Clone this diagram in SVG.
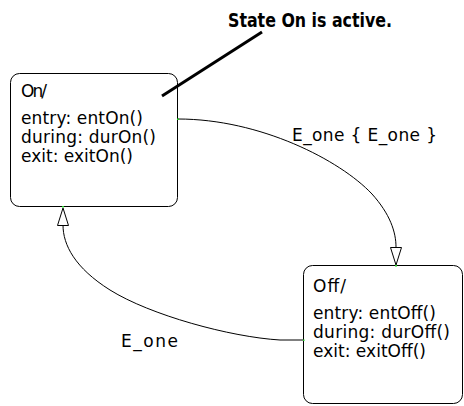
<svg xmlns="http://www.w3.org/2000/svg" width="464" height="406" viewBox="0 0 464 406">
<style>
.box{fill:#fff;stroke:#000;stroke-width:1}
.t{font-family:"DejaVu Sans",sans-serif;font-size:17px;fill:#000}
.edge{fill:none;stroke:#000;stroke-width:1}
.head{fill:#fff;stroke:#000;stroke-width:1}
.dot{fill:#22cc22}
.note{font-family:"DejaVu Sans Condensed","DejaVu Sans",sans-serif;font-weight:bold;font-size:20px;fill:#000}
</style>
<rect width="464" height="406" fill="#fff"/>
<g id="connectors">
<path class="edge" d="M178,119 C260,119 340,160 372,194 C390,214 396,232 396,247"/>
<polygon class="head" points="396,265 390.5,247.5 401.5,247.5"/>
<path class="edge" d="M303,340 L280,340 C230,337 150,315 110,290 C75,268 63,245 63,225"/>
<polygon class="head" points="63,208 57.5,225.5 68.5,225.5"/>
<text class="t" x="292" y="141" textLength="145" lengthAdjust="spacing">E_one { E_one }</text>
<text class="t" x="121" y="347" textLength="57" lengthAdjust="spacing">E_one</text>
</g>
<g id="on">
<rect class="box" x="10.5" y="73.5" width="167" height="133" rx="9"/>
<text class="t" x="21" y="97" textLength="26" lengthAdjust="spacing">On/</text>
<text class="t" x="21" y="124" textLength="122" lengthAdjust="spacing">entry: entOn()</text>
<text class="t" x="21" y="143" textLength="135" lengthAdjust="spacing">during: durOn()</text>
<text class="t" x="21" y="162" textLength="112" lengthAdjust="spacing">exit: exitOn()</text>
</g>
<g id="off">
<rect class="box" x="303.5" y="265.5" width="159" height="138" rx="9"/>
<text class="t" x="313" y="292" textLength="33" lengthAdjust="spacing">Off/</text>
<text class="t" x="313" y="319" textLength="123" lengthAdjust="spacing">entry: entOff()</text>
<text class="t" x="313" y="338" textLength="137" lengthAdjust="spacing">during: durOff()</text>
<text class="t" x="313" y="357" textLength="113" lengthAdjust="spacing">exit: exitOff()</text>
</g>
<g id="callout">
<line x1="262" y1="32" x2="162" y2="96" stroke="#000" stroke-width="3"/>
<text class="note" x="228" y="27" textLength="164" lengthAdjust="spacingAndGlyphs">State On is active.</text>
</g>
<rect class="dot" x="177" y="118.5" width="2" height="1.5"/>
<rect class="dot" x="395" y="265" width="2" height="1.5"/>
<rect class="dot" x="303" y="339.5" width="1.5" height="1.5"/>
<rect class="dot" x="62" y="206" width="2" height="1.5"/>
</svg>
